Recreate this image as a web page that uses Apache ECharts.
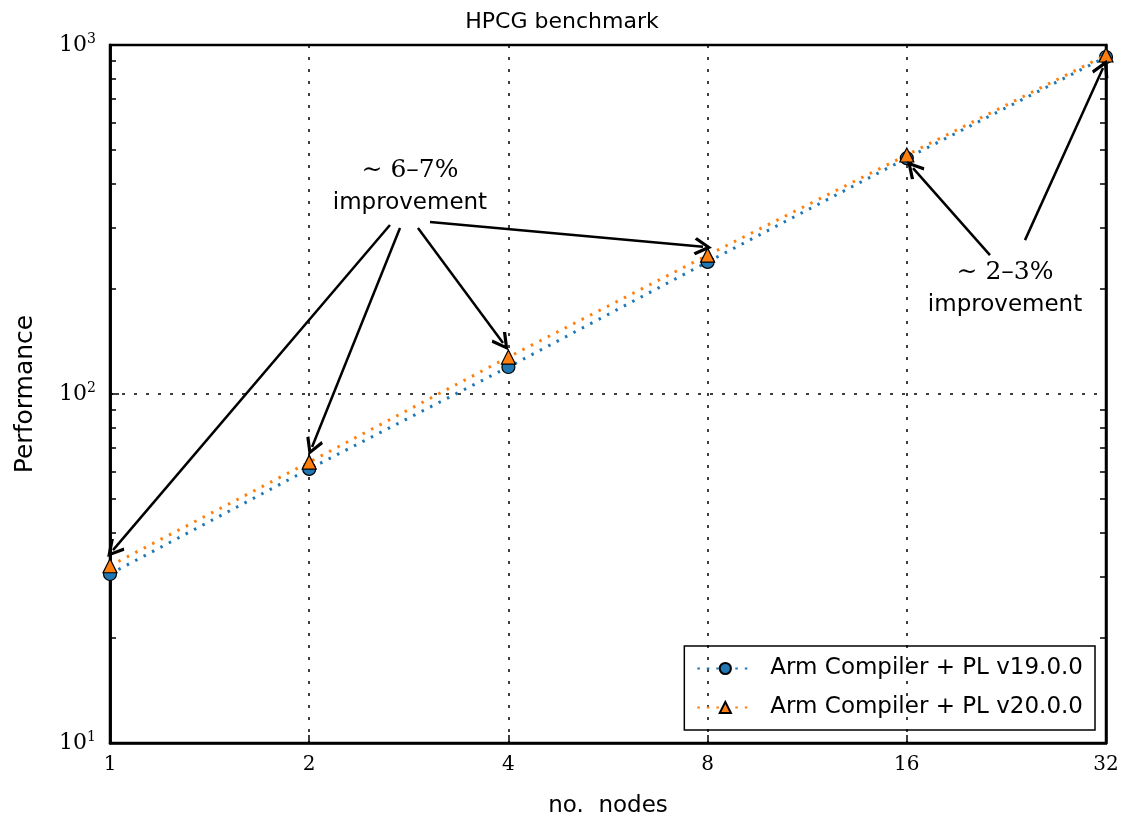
<!DOCTYPE html>
<html>
<head>
<meta charset="utf-8">
<script src="https://cdn.jsdelivr.net/npm/echarts@6/dist/echarts.min.js"></script>
<style>html,body{margin:0;padding:0;background:#fff;}#c{width:1124px;height:823px;}</style>
</head>
<body>
<div id="c"></div>
<script>
var nodes = [1, 2, 4, 8, 16, 32];
var perfV19 = [30.5, 61.0, 119.5, 239, 474, 924];
var perfV20 = [32.2, 63.8, 127.6, 250, 484, 936];
var seriesNames = ['Arm Compiler + PL v19.0.0', 'Arm Compiler + PL v20.0.0'];
var xTicks = [1, 2, 4, 8, 16, 32];
var yTicks = [10, 100, 1000];
var yMinorTicks = [20, 30, 40, 50, 60, 70, 80, 90, 200, 300, 400, 500, 600, 700, 800, 900];
// annotation arrows: [from, to] in data coordinates
var arrows67 = [[[2.649, 305], [1.0105, 35.7]], [[2.743, 299], [2.020, 70.5]], [[2.920, 299], [3.926, 140]], [[3.045, 311], [7.873, 264]]];
var arrows23 = [[[21.37, 250], [16.35, 444]], [[24.14, 276], [31.67, 859]]];
var note67 = {pct: '∼ 6–7%', pos: [2.84, 392]};
var note23 = {pct: '∼ 2–3%', pos: [22.52, 200]};

var SANS = '"DejaVu Sans", "Noto Sans", sans-serif';
var SERIF = '"DejaVu Serif", "Liberation Serif", serif';
var arrowHead = 'path://M5,0 L10,9 L8.6,10.2 L5,3.6 L1.4,10.2 L0,9 Z';

function pairs(xs, ys) { return xs.map(function (x, i) { return [x, ys[i]]; }); }
function arrowData(list) {
  return list.map(function (a) { return [{coord: a[0]}, {coord: a[1]}]; });
}
function noteLabel(n) {
  return {
    coord: n.pos,
    symbolSize: 0,
    label: {
      show: true, position: 'inside',
      formatter: '{p|' + n.pct + '}\n{t|improvement}',
      rich: {
        p: {fontFamily: SERIF, fontSize: 25, color: '#000', lineHeight: 33, align: 'center'},
        t: {fontFamily: SANS, fontSize: 23, color: '#000', lineHeight: 33, align: 'center'}
      }
    }
  };
}

var chart = echarts.init(document.getElementById('c'));
var axisLineStyle = {show: true, lineStyle: {color: '#000', width: 2.5}};
var minorTick = {show: true, inside: true, length: 6, customValues: yMinorTicks, lineStyle: {color: '#000', width: 1.5}};
chart.setOption({
  animation: false,
  title: {
    text: 'HPCG benchmark', left: 'center', top: 6,
    textStyle: {fontFamily: SANS, fontSize: 22, fontWeight: 'normal', color: '#000'}
  },
  grid: {left: 110, right: 18, top: 45, bottom: 80, outerBoundsMode: 'none', containLabel: false,
    show: true, borderColor: '#000', borderWidth: 2.5, backgroundColor: 'transparent'},
  legend: {
    orient: 'vertical', right: 29, bottom: 93,
    borderColor: '#000', borderWidth: 1.5, padding: [11, 12, 11, 12], itemGap: 16,
    itemWidth: 56, itemHeight: 14,
    textStyle: {fontFamily: SANS, fontSize: 23, color: '#000', padding: [0, 0, 0, 12]},
    data: seriesNames
  },
  xAxis: {
    type: 'log', logBase: 2, min: 1, max: 32,
    name: 'no.  nodes', nameLocation: 'middle', nameGap: 52,
    nameTextStyle: {fontFamily: SANS, fontSize: 23, color: '#000'},
    axisLine: axisLineStyle,
    axisTick: {show: true, inside: true, length: 8, customValues: xTicks, lineStyle: {color: '#000', width: 1.5}},
    axisLabel: {customValues: xTicks, fontFamily: SERIF, fontSize: 20, color: '#000', margin: 12,
      formatter: function (v) { return String(Math.round(v)); }},
    splitLine: {show: true, lineStyle: {color: '#000', width: 1.5, type: [3, 9]}}
  },
  yAxis: [{
    type: 'log', logBase: 10, min: 10, max: 1000, position: 'left',
    name: 'Performance', nameLocation: 'middle', nameGap: 72, nameRotate: 90,
    nameTextStyle: {fontFamily: SANS, fontSize: 25, color: '#000'},
    axisLine: axisLineStyle,
    axisTick: {show: true, inside: true, length: 9, customValues: yTicks, lineStyle: {color: '#000', width: 1.5}},
    axisLabel: {
      fontFamily: SERIF, color: '#000', margin: 14,
      customValues: yTicks,
      formatter: function (v) { return '{b|10}{s|' + Math.round(Math.log10(v)) + '}'; },
      rich: {
        b: {fontFamily: SERIF, fontSize: 22, color: '#000'},
        s: {fontFamily: SERIF, fontSize: 14, color: '#000', padding: [0, 0, 12, 0]}
      }
    },
    splitLine: {show: true, lineStyle: {color: '#000', width: 1.5, type: [3, 9]}}
  }, {
    type: 'log', logBase: 10, min: 10, max: 1000, position: 'right',
    axisLine: axisLineStyle, axisTick: minorTick,
    axisLabel: {show: false}, splitLine: {show: false}
  }, {
    type: 'log', logBase: 10, min: 10, max: 1000, position: 'left',
    axisLine: axisLineStyle, axisTick: minorTick,
    axisLabel: {show: false}, splitLine: {show: false}
  }],
  series: [{
    name: seriesNames[0], type: 'line', data: pairs(nodes, perfV19),
    symbol: 'circle', symbolSize: 13,
    itemStyle: {color: '#1f77b4', borderColor: '#000', borderWidth: 1.2},
    lineStyle: {color: '#1f77b4', width: 3, type: [2.5, 7]},
    z: 3,
    markLine: {
      silent: true, symbol: ['none', arrowHead], symbolSize: [18, 18],
      lineStyle: {color: '#000', width: 2.5, type: 'solid'},
      label: {show: false},
      data: arrowData(arrows67.concat(arrows23))
    },
    markPoint: {silent: true, data: [noteLabel(note67), noteLabel(note23)]}
  }, {
    name: seriesNames[1], type: 'line', data: pairs(nodes, perfV20),
    symbol: 'triangle', symbolSize: 14,
    itemStyle: {color: '#ff7f0e', borderColor: '#000', borderWidth: 1.2},
    lineStyle: {color: '#ff7f0e', width: 3, type: [2.5, 7]},
    z: 4
  }]
});
</script>
</body>
</html>
